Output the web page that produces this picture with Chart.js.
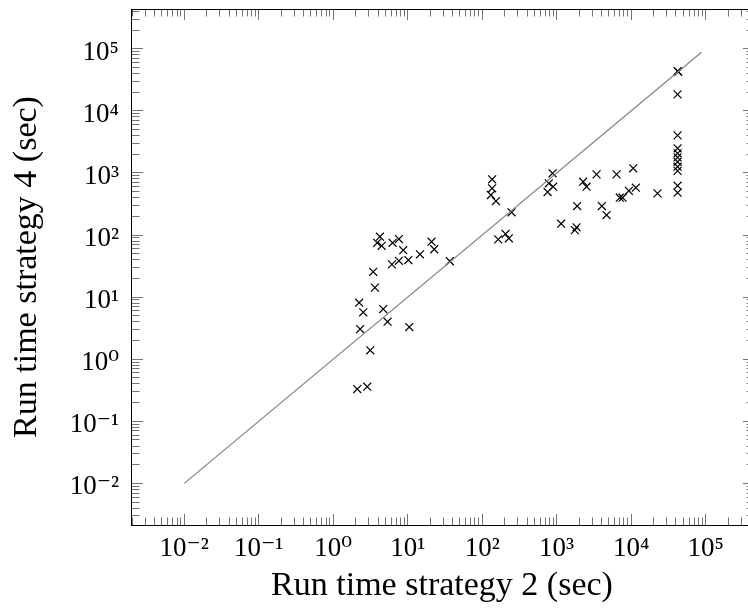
<!DOCTYPE html>
<html>
<head>
<meta charset="utf-8">
<script src="https://cdn.jsdelivr.net/npm/chart.js@4.4.1/dist/chart.umd.min.js"></script>
<style>
html, body { margin: 0; padding: 0; overflow: hidden; background: #fff; }
#wrap { width: 760px; height: 613px; }
</style>
</head>
<body>
<div id="wrap"><canvas id="runtimes"></canvas></div>
<script>
// run times in seconds
const runTime2 = [
    4.24, 3.90, 4.47, 6.27, 7.62, 8.71, 20.9, 22.7, 6.14, 7.62, 10.2, 14.6, 36.8,
    3.44, 3.63, 2.23, 2.53, 4.69, 5.37, 2.30, 10.5, 3.14, 2.10, 2.86,
    164, 206, 228,
    136, 136, 131, 153, 248,
    881, 785, 897, 755, 1148, 1849, 1754, 1884, 2269, 2518, 3433, 4046, 4677,
    6368, 7046, 7669, 9311, 10650, 11560, 22600,
    42000, 43000, 42000, 42000, 42000, 42000, 42000, 42000, 42000, 42000, 42000, 42000
]
const runTime4 = [
    94, 75, 67, 75, 86, 57, 78, 59, 33.7, 38.5, 39.5, 48.9, 37.8,
    25.6, 14.2, 8.13, 5.69, 6.43, 4.02, 3.06, 3.30, 1.39, 0.331, 0.361,
    85, 104, 88.5,
    789, 565, 441, 352, 232,
    986, 680, 600, 492, 152, 133, 120, 293, 722, 600, 948, 293, 210,
    948, 399, 399, 516, 1186, 578, 469,
    43700, 42500, 18400, 4030, 2490, 2070, 1780, 1510, 1260, 1080, 622, 480
]
const diagonalX = [0.01, 88000]
const diagonalY = [0.01, 88000]

const xRange = [-2.715, 5.636]   // log10 limits
const yRange = [-2.67, 5.64]
const decades = [-3, -2, -1, 0, 1, 2, 3, 4, 5]
const sup = { '-': '\u207B', '0': '\u2070', '1': '\u00B9', '2': '\u00B2', '3': '\u00B3', '4': '\u2074', '5': '\u2075' }

const serif = "'Liberation Serif', 'DejaVu Serif', serif"

function isMajor(v) {
    let l = Math.log10(v)
    return Math.abs(l - Math.round(l)) < 1e-6
}

function logTicks(range) {
    let out = []
    decades.forEach(d => {
        for (let m = 1; m <= 9; m++) {
            let v = m * Math.pow(10, d)
            let l = Math.log10(v)
            if (l >= range[0] && l <= range[1]) out.push({ value: v })
        }
    })
    return out
}

function tickLabel(v) {
    if (!isMajor(v)) return ''
    let e = String(Math.round(Math.log10(v)))
    return '10' + e.split('').map(c => sup[c]).join('')
}

// inward tick marks on both sides, drawn as dashed grid lines
function tickDash(ctx, horizontal) {
    let area = ctx.chart.chartArea
    if (!area) return []
    let span = horizontal ? area.bottom - area.top : area.right - area.left
    let len = isMajor(ctx.tick.value) ? 11 : 7.5
    return [len, span - 2 * len, len, span]
}

const points = runTime2.map((x, i) => ({ x: x, y: runTime4[i] }))
const diagonal = diagonalX.map((x, i) => ({ x: x, y: diagonalY[i] }))

new Chart(document.getElementById('runtimes'), {
    type: 'scatter',
    data: {
        datasets: [{
            data: diagonal,
            showLine: true,
            borderColor: '#808080',
            borderWidth: 1.2,
            pointRadius: 0
        }, {
            data: points,
            pointStyle: 'crossRot',
            pointRadius: 5.6,
            borderColor: '#000',
            backgroundColor: '#000',
            pointBorderWidth: 1.2
        }]
    },
    options: {
        responsive: true,
        maintainAspectRatio: false,
        animation: false,
        events: [],
        layout: { padding: { top: 9, right: 7, left: 0, bottom: 0 } },
        plugins: { legend: { display: false }, tooltip: { enabled: false } },
        scales: {
            x: {
                type: 'logarithmic',
                position: 'bottom',
                min: Math.pow(10, xRange[0]),
                max: Math.pow(10, xRange[1]),
                afterBuildTicks: s => { s.ticks = logTicks(xRange) },
                afterFit: s => { s.height = 88; s.paddingLeft = 0; s.paddingRight = 0 },
                ticks: {
                    autoSkip: false,
                    maxRotation: 0,
                    padding: 8,
                    color: '#000',
                    font: { family: serif, size: 27 },
                    callback: v => tickLabel(v)
                },
                grid: {
                    drawTicks: false,
                    color: 'rgba(0,0,0,0.55)',
                    lineWidth: 1
                },
                border: { display: true, color: '#000', width: 1, dash: ctx => tickDash(ctx, true) },
                title: {
                    display: true,
                    text: 'Run time strategy 2 (sec)',
                    color: '#000',
                    font: { family: serif, size: 34 },
                    padding: { top: 0, bottom: 7 }
                }
            },
            xTop: {
                type: 'logarithmic',
                position: 'top',
                min: Math.pow(10, xRange[0]),
                max: Math.pow(10, xRange[1]),
                afterFit: s => { s.height = 0 },
                ticks: { display: false },
                grid: { display: false, drawTicks: false },
                border: { display: true, color: '#000', width: 1 }
            },
            y: {
                type: 'logarithmic',
                position: 'left',
                min: Math.pow(10, yRange[0]),
                max: Math.pow(10, yRange[1]),
                afterBuildTicks: s => { s.ticks = logTicks(yRange) },
                afterFit: s => { s.width = 131; s.paddingTop = 0; s.paddingBottom = 0 },
                ticks: {
                    autoSkip: false,
                    padding: 12,
                    labelOffset: 4,
                    color: '#000',
                    font: { family: serif, size: 27 },
                    callback: v => tickLabel(v)
                },
                grid: {
                    drawTicks: false,
                    color: 'rgba(0,0,0,0.55)',
                    lineWidth: 1
                },
                border: { display: true, color: '#000', width: 1, dash: ctx => tickDash(ctx, false) },
                title: {
                    display: true,
                    text: 'Run time strategy 4 (sec)',
                    color: '#000',
                    font: { family: serif, size: 34 },
                    padding: { top: 7, bottom: 0 }
                }
            }
        }
    }
})
</script>
</body>
</html>
